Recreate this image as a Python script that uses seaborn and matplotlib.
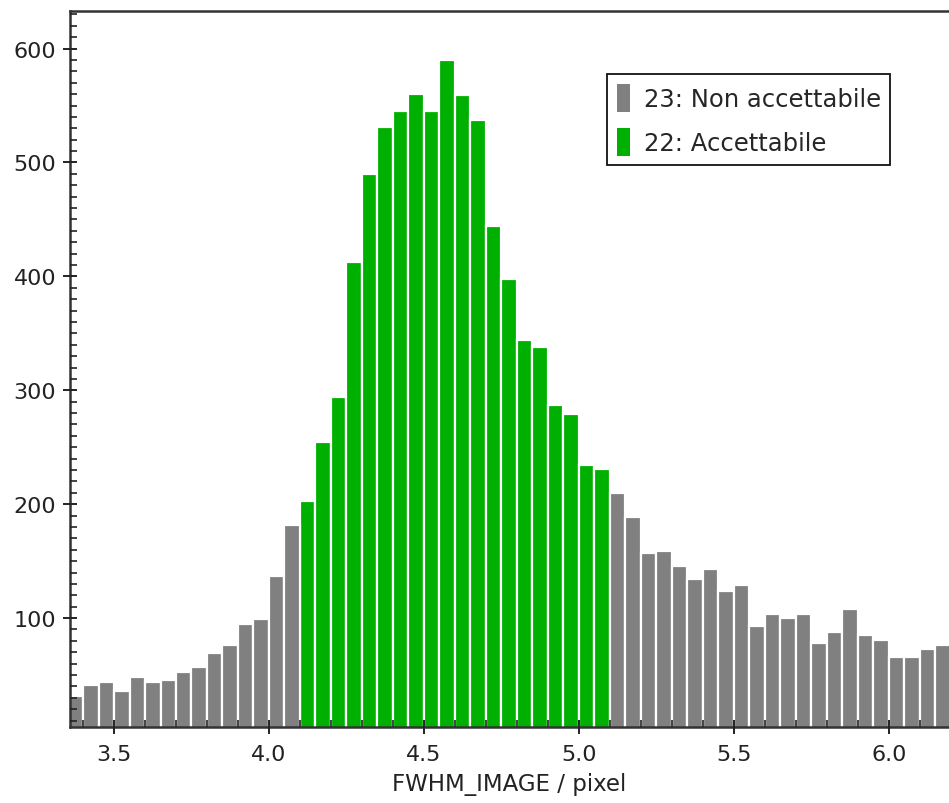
import numpy as np
import pandas as pd
import matplotlib.pyplot as plt
import seaborn as sns
from matplotlib.patches import Patch
from matplotlib.ticker import MultipleLocator

# Histogram of FWHM_IMAGE, bins of 0.05 px starting at 3.35
bin_start = 3.35
bin_width = 0.05
gray_left = [32, 41, 44, 36, 48, 44, 46, 53, 57, 69, 76, 95, 99, 137, 182]
green_mid = [203, 255, 294, 413, 490, 531, 545, 560, 545, 590,
             559, 537, 444, 398, 344, 338, 287, 279, 234, 231]
gray_right = [210, 189, 157, 159, 146, 134, 143, 124, 129, 93, 104,
              100, 104, 78, 88, 108, 85, 81, 66, 66, 73, 76]

labels = ["23: Non accettabile", "22: Accettabile"]
colors = ["#808080", "#00b000"]

counts = gray_left + green_mid + gray_right
n_bins = len(counts)
centers = bin_start + bin_width * (np.arange(n_bins) + 0.5)
status = ([labels[0]] * len(gray_left) + [labels[1]] * len(green_mid)
          + [labels[0]] * len(gray_right))
df = pd.DataFrame({"fwhm": centers, "count": counts, "status": status})

sns.set_style("ticks")
plt.rcParams["font.family"] = ["DejaVu Sans"]

fig = plt.figure(figsize=(9.49, 8.04), dpi=100)
ax = fig.add_axes([70 / 949, 76 / 804, 879 / 949, 716 / 804])

sns.histplot(data=df, x="fwhm", weights="count", hue="status",
             binwidth=bin_width,
             binrange=(bin_start, bin_start + bin_width * n_bins),
             palette=dict(zip(labels, colors)), multiple="layer", alpha=1,
             edgecolor="white", linewidth=1.6, legend=False, ax=ax)

ax.set_axisbelow(False)
ax.set_xlim(3.358, 6.194)
ax.set_ylim(4.4, 633)
ax.xaxis.set_major_locator(MultipleLocator(0.5))
ax.xaxis.set_minor_locator(MultipleLocator(0.1))
ax.yaxis.set_major_locator(MultipleLocator(100))
ax.yaxis.set_minor_locator(MultipleLocator(10))
ax.xaxis.set_major_formatter(plt.FormatStrFormatter("%.1f"))
ax.set_yticks([100, 200, 300, 400, 500, 600])

ax.tick_params(which="major", direction="inout", length=10, width=1.4,
               labelsize=16, colors="#222222", pad=5)
ax.tick_params(which="minor", direction="in", length=5, width=1.2,
               colors="#222222")
ax.tick_params(axis="x", which="major", pad=7)

for side in ["left", "top", "bottom"]:
    ax.spines[side].set_linewidth(1.8)
    ax.spines[side].set_color("#333333")
ax.spines["right"].set_visible(False)

ax.set_xlabel("FWHM_IMAGE / pixel", fontsize=16.5, color="#222222",
              labelpad=6)
ax.set_ylabel("")

handles = [Patch(facecolor=c, edgecolor="none") for c in colors]
leg = ax.legend(handles, labels, loc="upper left",
                bbox_to_anchor=(0.611, 0.912), fontsize=17.5,
                frameon=True, fancybox=False, framealpha=1,
                edgecolor="#111111", handlelength=0.55, handleheight=1.4,
                handletextpad=0.55, borderpad=0.4, labelspacing=0.65,
                borderaxespad=0)
leg.get_frame().set_linewidth(1.3)

fig.savefig("out.png", dpi=100)
